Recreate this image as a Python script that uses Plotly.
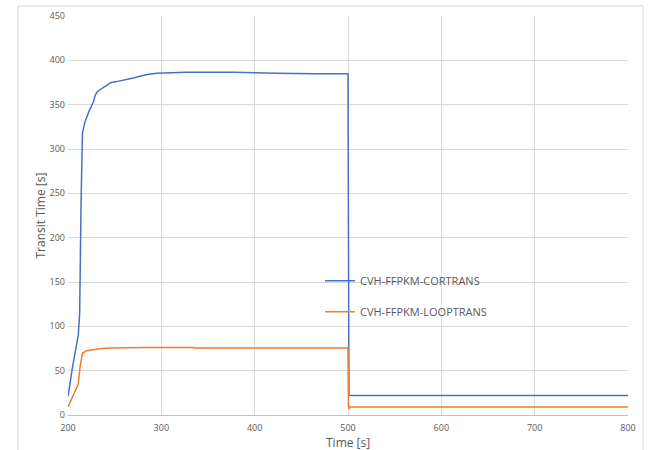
import plotly.graph_objects as go

# Data
cor_time = [200, 205, 211, 212.5, 214, 215.5, 218, 220.5, 223, 225, 227.5, 229, 231, 233, 237, 241,
            246, 252, 262, 270, 277, 285, 295, 310, 327, 377, 395, 423, 464, 500, 501, 503, 800]
cor_vals = [21, 55, 90, 115, 240, 318, 330, 338, 344, 348, 354, 360, 364, 366, 369, 371,
            375, 376, 378, 380, 382, 384, 385.5, 386, 386.7, 386.5, 386, 385.5, 385, 385, 22, 22, 22]

loop_time = [200, 211, 213, 215.5, 219.7, 226, 234, 245, 280, 335, 336, 500, 500.5, 501.5, 502, 800]
loop_vals = [9, 35, 55, 69.6, 72.5, 73.8, 74.8, 75.5, 76.2, 76.2, 75.5, 75.5, 9, 7, 9, 9]

x_ticks = [200, 300, 400, 500, 600, 700, 800]
y_ticks = [0, 50, 100, 150, 200, 250, 300, 350, 400, 450]

series_names = ["CVH-FFPKM-CORTRANS", "CVH-FFPKM-LOOPTRANS"]
colors = ["#4472C4", "#ED7D31"]
x_title = "Time [s]"
y_title = "Transit Time [s]"

fig = go.Figure()
fig.add_trace(go.Scatter(x=cor_time, y=cor_vals, mode="lines", name=series_names[0],
                         line=dict(color=colors[0], width=1.5), legendgroup="a"))
fig.add_trace(go.Scatter(x=loop_time, y=loop_vals, mode="lines", name=series_names[1],
                         line=dict(color=colors[1], width=1.5), legendgroup="b"))

font_family = "Open Sans, Liberation Sans, sans-serif"
fig.update_layout(
    width=648, height=450,
    margin=dict(l=68, r=20, t=16, b=35),
    paper_bgcolor="white", plot_bgcolor="white",
    font=dict(family=font_family, color="#595959"),
    showlegend=True,
    legend=dict(x=0.45, y=0.373, xanchor="left", yanchor="top",
                bgcolor="rgba(0,0,0,0)", font=dict(size=11, color="#595959"),
                tracegroupgap=12, itemwidth=30),
    xaxis=dict(range=[200, 800], tickvals=x_ticks, showgrid=True, gridcolor="#D9D9D9",
               gridwidth=1, zeroline=False, showline=True, linecolor="#BFBFBF",
               tickfont=dict(size=9, color="#595959"), ticks="", automargin=False,
               ticklabelstandoff=4),
    yaxis=dict(range=[0, 450], tickvals=y_ticks, showgrid=True, gridcolor="#D9D9D9",
               gridwidth=1, zeroline=False, showline=False,
               tickfont=dict(size=9, color="#595959"), ticks="", automargin=False,
               ticklabelstandoff=2),
    annotations=[
        dict(text=x_title, xref="paper", yref="paper", x=0.5, y=-0.068,
             xanchor="center", yanchor="middle", showarrow=False,
             font=dict(size=12, color="#595959")),
        dict(text=y_title, xref="paper", yref="paper", x=-0.05, y=0.5, textangle=-90,
             xanchor="center", yanchor="middle", showarrow=False,
             font=dict(size=12, color="#595959")),
    ],
    shapes=[dict(type="rect", xref="paper", yref="paper",
                 x0=-0.0893, x1=1.0268, y0=-0.095, y1=1.0251,
                 line=dict(color="#D9D9D9", width=1), fillcolor="rgba(0,0,0,0)", layer="below")],
)

fig.write_html("out.html")
